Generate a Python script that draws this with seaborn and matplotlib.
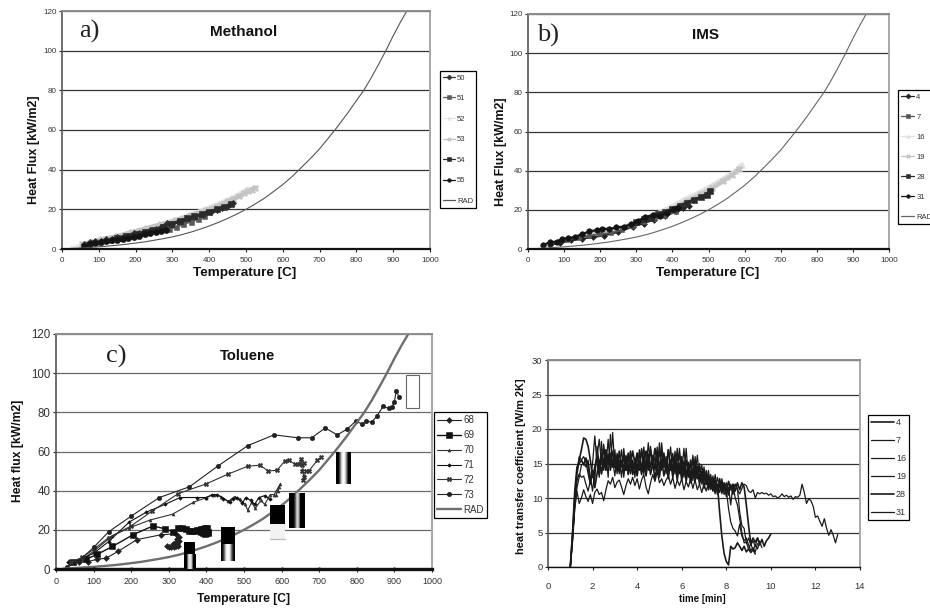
#!/usr/bin/env python
# coding: utf-8

import matplotlib
matplotlib.use("Agg")
import matplotlib.pyplot as plt
import seaborn as sns

# RAD reference curve, same for the three heat flux panels
rad_t = [20, 50, 75, 100, 125, 150, 175, 200, 225, 250, 275, 300, 325, 350, 375, 400, 425, 450, 475, 500, 525, 550,
         575, 600, 625, 650, 675, 700, 725, 750, 775, 800, 820, 840, 860, 880, 900, 920, 937]
rad_q = [0.2, 0.5, 0.8, 1.1, 1.5, 1.9, 2.4, 3.0, 3.6, 4.4, 5.2, 6.1, 7.2, 8.5, 10, 11.6, 13.4, 15.4, 17.6, 20, 22.7, 25.6,
         29, 32.5, 36.5, 41, 45.6, 50.5, 56.2, 62, 68.2, 74.8, 80, 86.2, 93, 100, 107.5, 114.5, 120]

# a) Methanol
m52_t = [25, 50, 80, 120, 160, 200, 240, 280, 320, 360, 400, 440, 480, 505]
m52_q = [0.3, 1.5, 3.0, 5.0, 7.0, 9.0, 11.0, 13.0, 15.5, 18.0, 21.0, 24.0, 27.5, 30.5]
m53_t = [55, 80, 110, 150, 190, 230, 270, 310, 350, 390, 420, 450, 465, 480, 495, 505, 515, 525]
m53_q = [2.5, 3.5, 5.0, 6.5, 8.5, 10.5, 12.5, 14.5, 17.0, 19.5, 21.5, 24.0, 25.2, 26.5, 28.0, 29.0, 30.0, 31.0]
m50_t = [60, 75, 90, 105, 120, 135, 150, 165, 180, 195, 210, 225, 240, 255, 270, 285, 300, 315, 330, 345, 360, 375, 390, 405, 420, 435, 450, 465]
m50_q = [2.4, 3.4, 4.2, 4.0, 5.0, 5.2, 6.0, 6.2, 6.8, 8.3, 8.0, 8.6, 9.8, 10.0, 11.2, 13.0, 12.6, 13.4, 14.0, 15.2, 16.0, 17.0, 18.0, 18.8, 19.6, 20.8, 21.8, 23.2]
m51_t = [70, 100, 130, 160, 190, 220, 250, 275, 290, 310, 330, 350, 370, 385]
m51_q = [2.0, 3.5, 4.6, 5.6, 6.8, 8.2, 9.4, 10.6, 10.2, 11.0, 12.6, 13.8, 15.0, 16.4]
m54_t = [150, 175, 200, 225, 250, 275, 295, 320, 340, 360, 380, 400, 420, 440, 460]
m54_q = [5.5, 6.5, 7.8, 8.6, 9.8, 11.2, 12.8, 14.0, 15.4, 16.4, 17.6, 18.8, 20.0, 21.2, 22.8]
m55_t = [60, 75, 90, 105, 120, 135, 150, 165, 180, 195, 210, 225, 240, 255, 270, 282]
m55_q = [1.6, 2.4, 2.9, 3.3, 3.8, 4.3, 4.7, 5.2, 5.7, 6.2, 6.8, 7.4, 7.9, 8.4, 8.9, 9.6]

# b) IMS
i4_t = [60, 90, 120, 150, 180, 210, 250, 290, 320, 350, 380, 410, 430, 447]
i4_q = [2.2, 3.0, 4.4, 5.2, 6.0, 6.8, 8.6, 11.4, 13.0, 15.0, 16.8, 19.2, 21.0, 21.8]
i7_t = [80, 110, 140, 170, 200, 230, 260, 290, 320, 350, 380, 410]
i7_q = [3.4, 4.6, 5.8, 6.8, 7.6, 8.2, 9.6, 12.0, 14.0, 15.4, 17.0, 18.8]
i16_t = [150, 190, 230, 270, 310, 350, 390, 430, 470, 510, 550, 575, 592]
i16_q = [6.5, 8.0, 9.5, 11.5, 14.5, 17.5, 21.0, 25.0, 28.5, 32.5, 37.0, 40.0, 43.0]
i19_t = [160, 200, 240, 280, 320, 360, 400, 440, 480, 510, 540, 565, 585]
i19_q = [7.0, 8.0, 9.6, 11.6, 14.6, 17.6, 20.6, 24.4, 28.0, 31.0, 34.6, 37.6, 40.8]
i28_t = [300, 320, 340, 360, 380, 400, 420, 440, 460, 480, 495, 505]
i28_q = [13.6, 15.2, 16.0, 17.8, 19.0, 20.4, 22.0, 23.6, 25.2, 26.4, 27.8, 29.6]
i31_t = [42, 60, 80, 95, 110, 130, 150, 170, 190, 205, 225, 245, 265, 285, 305, 325, 345, 365, 385, 405, 415]
i31_q = [2.0, 3.4, 3.8, 5.2, 5.4, 6.2, 7.6, 9.0, 9.6, 10.4, 10.2, 11.0, 11.4, 12.6, 14.4, 16.2, 17.4, 17.0, 18.6, 20.2, 21.0]

# c) Toluene
t68_t = [35, 60, 85, 110, 133, 165, 215, 280, 318, 327, 322, 328, 318, 322, 310, 318, 305, 295, 300, 315, 325]
t68_q = [3.5, 3.5, 3.8, 5.0, 5.5, 9.0, 15.0, 17.5, 18.0, 16.5, 15.5, 14.5, 14.0, 12.8, 13.0, 11.8, 11.3, 12.0, 11.0, 11.0, 12.0]
t69_t = [45, 80, 110, 150, 205, 258, 290, 312, 325, 335, 345, 355, 362, 370, 375, 380, 386, 392, 397, 402, 405, 400, 395, 390, 385, 392, 398, 405, 398]
t69_q = [3.5, 5.0, 7.5, 11.5, 17.5, 22.0, 20.5, 19.0, 20.8, 20.8, 20.5, 19.5, 19.4, 19.5, 20.0, 20.0, 20.4, 20.5, 20.8, 20.8, 19.0, 18.4, 18.0, 18.6, 19.0, 20.0, 19.2, 18.5, 20.0]
t70_t = [40, 70, 100, 150, 195, 250, 310, 365, 400, 420, 440, 458, 475, 490, 503, 510, 520, 530, 545, 555, 570, 580, 592, 597, 590, 585]
t70_q = [3.0, 5.0, 9.0, 17.0, 21.0, 25.0, 28.0, 34.0, 36.5, 38.0, 37.0, 34.5, 37.0, 35.5, 33.0, 30.0, 34.0, 31.0, 35.0, 33.0, 38.0, 38.0, 42.0, 43.5, 40.0, 38.0]
t71_t = [35, 60, 100, 140, 195, 240, 290, 330, 375, 400, 415, 428, 445, 462, 470, 482, 495, 505, 518, 528, 540, 555, 570]
t71_q = [3.5, 4.5, 8.0, 14.0, 24.0, 29.0, 33.0, 36.5, 36.5, 36.5, 38.0, 38.0, 36.0, 34.0, 36.0, 36.5, 33.5, 36.5, 35.0, 33.0, 36.5, 37.5, 35.5]
t72_t = [40, 70, 100, 140, 200, 255, 325, 400, 458, 510, 542, 565, 588, 608, 620, 635, 645, 652, 655, 660, 655, 660, 657, 665, 672, 695, 705]
t72_q = [3.5, 6.0, 10.0, 16.0, 22.0, 29.5, 38.5, 43.5, 48.5, 52.5, 53.0, 50.0, 50.5, 55.0, 55.5, 53.5, 53.5, 56.0, 53.0, 54.0, 50.0, 47.0, 45.5, 50.0, 50.0, 55.5, 57.0]
t73_t = [30, 60, 100, 140, 200, 275, 355, 430, 510, 580, 643, 680, 716, 748, 775, 797, 815, 825, 840, 853, 870, 885, 893, 900, 905, 912]
t73_q = [1.0, 4.0, 11.0, 19.0, 27.0, 36.5, 42.0, 52.5, 63.0, 68.5, 67.0, 67.0, 72.0, 68.5, 71.5, 75.5, 74.0, 75.5, 75.0, 78.0, 83.0, 82.0, 82.5, 85.5, 91.0, 88.0]
# the run of zero readings that sits on the axis
t_zero_x = [0, 100, 200, 300, 400, 500, 600, 700, 800, 900, 1000]
t_zero_y = [0, 0, 0, 0, 0, 0, 0, 0, 0, 0, 0]

# broken legend swatches left inside panel c: x0, x1, y0, y_split, y1
box_x0 = [341, 440, 570, 620, 745, 931]
box_x1 = [371, 477, 610, 660, 783, 966]
box_y0 = [0, 4.1, 15.4, 20.8, 43.4, 82]
box_split = [7.5, 12.6, 23.2, 38.2, 59.4, 82]
box_y1 = [13.7, 21.3, 32.6, 38.2, 59.4, 99.2]

# d) heat transfer coefficient, one reading every 0.1 min
time_min = [1.0, 1.1, 1.2, 1.3, 1.4, 1.5, 1.6, 1.7, 1.8, 1.9,
            2.0, 2.1, 2.2, 2.3, 2.4, 2.5, 2.6, 2.7, 2.8, 2.9,
            3.0, 3.1, 3.2, 3.3, 3.4, 3.5, 3.6, 3.7, 3.8, 3.9,
            4.0, 4.1, 4.2, 4.3, 4.4, 4.5, 4.6, 4.7, 4.8, 4.9,
            5.0, 5.1, 5.2, 5.3, 5.4, 5.5, 5.6, 5.7, 5.8, 5.9,
            6.0, 6.1, 6.2, 6.3, 6.4, 6.5, 6.6, 6.7, 6.8, 6.9,
            7.0, 7.1, 7.2, 7.3, 7.4, 7.5, 7.6, 7.7, 7.8, 7.9,
            8.0, 8.1, 8.2, 8.3, 8.4, 8.5, 8.6, 8.7, 8.8, 8.9,
            9.0, 9.1, 9.2, 9.3, 9.4, 9.5, 9.6, 9.7, 9.8, 9.9,
            10.0, 10.1, 10.2, 10.3, 10.4, 10.5, 10.6, 10.7, 10.8, 10.9,
            11.0, 11.1, 11.2, 11.3, 11.4, 11.5, 11.6, 11.7, 11.8, 11.9,
            12.0, 12.1, 12.2, 12.3, 12.4, 12.5, 12.6, 12.7, 12.8, 12.9, 13.0]
h4 = [0, 4.5, 10, 13.5, 15.5, 17, 18.7, 18.5, 17.5, 15.5, 13, 14.5, 16, 14, 16.5, 15, 17, 15, 16.5, 14.5,
      16, 14, 16.8, 14.5, 16, 14, 16.5, 14.8, 16.8, 15, 16.5, 14.5, 17, 15, 16.8, 14.5, 17, 15, 17.2, 15,
      16.8, 14.5, 16.5, 14.5, 17, 14.5, 16, 14, 16.5, 14, 16, 13.5, 15.5, 13.5, 15.5, 13, 15, 12.8, 14.5, 12.5,
      13.8, 12, 13.2, 11.5, 12.6, 11.2, 12, 8, 4.5, 2, 0.8, 0.3, 3, 2.6, 2.8, 3.5, 3, 2.4, 3, 2.2,
      2.6, 2.1, 2.5, 1.9]
h7 = [0, 4, 9, 12.5, 13.5, 13, 13.2, 12, 11, 12.5, 15, 19, 15, 13, 18.2, 14, 16.5, 13, 19.2, 14.5,
      17, 13.5, 15.5, 13, 17.2, 14, 16, 13.5, 15.5, 13, 16.5, 14, 17.2, 13.5, 15.5, 14, 17.5, 14.5, 16, 13.5,
      18, 14, 16, 13.5, 17, 14, 16.5, 13.5, 17.2, 13.5, 15.5, 13, 17.2, 13, 15, 12.5, 16, 12.8, 15, 12,
      14.5, 12, 14, 11.5, 13.2, 11, 13, 11.5, 12.4, 10.5, 11.2, 8.5, 6.5, 5.6, 5.2, 4.5, 6.2, 4.5, 3.8, 4.2,
      3.2, 2.4, 2.8, 2.2, 3.4]
h16 = [0, 3.5, 8.5, 11.5, 13, 14.8, 15, 14.5, 15.5, 13, 11, 14, 16, 18.5, 15, 17.2, 14.5, 16.4, 14, 15.5,
       13.2, 16, 13.5, 15.5, 13, 16.2, 14, 16.8, 14, 15.8, 14, 17, 14.2, 16.2, 14, 18, 14.5, 16, 14, 16.8,
       14.2, 18, 14.5, 16, 13.8, 15.6, 13.5, 16.8, 14, 17.2, 13.5, 15.4, 13, 14.8, 12.8, 15.8, 12.6, 14.4, 12.2, 13.8,
       11.5, 13.4, 11.4, 13, 11.2, 12.4, 10.5, 12, 10.6, 11.8, 10.2, 11.6, 9, 12, 10, 9, 7, 5, 3.5, 3.6,
       2.6, 3.4, 2.4, 3.2, 2.6, 3.6]
h19 = [0, 4.5, 10, 14, 16, 15.5, 16, 15.2, 13.5, 12, 14, 12.5, 17.5, 15, 13.5, 17.8, 14.8, 18.5, 14, 19.5,
       14.5, 16.5, 14, 17, 14, 16, 13.5, 16.8, 14.2, 15.2, 13.8, 16.6, 14, 17.4, 14.2, 16.4, 14.4, 16.2, 14.2, 17.4,
       14, 16.8, 14.4, 15.4, 14, 17.4, 14, 15.8, 13.6, 16.4, 13.8, 17.2, 13.4, 15.2, 13.2, 16.2, 13.2, 16.2, 12.6, 14.8,
       12.4, 14, 12, 13.4, 11.4, 13.4, 11, 11, 12.8, 11.2, 12.2, 10.4, 11.8, 10.5, 12, 11.4, 8, 6, 5.6, 3.4,
       4.2, 3.2, 3.8, 3, 4.2, 3.6, 2.8]
h28 = [0, 5, 11, 14.5, 15, 15.5, 14.8, 15.8, 14.5, 12, 14, 11.5, 13.5, 15.5, 13.5, 15.5, 14, 16.2, 15.2, 16.8,
       14.4, 15.6, 13.8, 15.2, 13.6, 15.8, 13.4, 15, 13.4, 14.8, 13.2, 15.4, 13.4, 15.2, 13.2, 15.8, 13.4, 15, 12.8, 14.8,
       13, 15.6, 13.2, 14.8, 12.8, 15.4, 13, 15, 12.6, 15, 12.6, 14.6, 12.4, 14.4, 12.2, 14.2, 12.4, 14.6, 12, 13.8,
       11.4, 13, 11.2, 12.8, 11, 12.6, 11.2, 12.8, 11, 12.2, 11, 12.4, 11.2, 12, 11, 12.2, 11.2, 12.2, 11.6, 9,
       6, 3.4, 4.2, 3.6, 4.2, 3.2, 4.0, 3.0, 3.8, 4.2, 4.8]
h31 = [0, 4, 8.5, 11, 9.2, 10, 11.2, 10.2, 9.5, 10.5, 9.2, 10.8, 11.3, 10.5, 10.8, 9.6, 11.2, 12.5, 12, 13,
       11.5, 12.3, 12.6, 11.6, 10.5, 11.8, 12.8, 12, 13, 11.8, 12.8, 11.3, 12.6, 13.4, 11.6, 10.6, 12.2, 13.4, 12.4, 13.8,
       12.2, 12.8, 11.8, 12.6, 13.2, 12, 13, 11.4, 12.6, 11.8, 12.8, 11.2, 12.4, 11.6, 12.8, 11.4, 12.6, 11.2, 12, 10.8,
       12, 11, 12.2, 11.2, 11.8, 10.6, 11.8, 10.8, 12, 11, 11.2, 10.8, 12, 11, 12, 11.2, 10.6, 11.4, 12, 11.8,
       11, 10.8, 11.2, 10, 10.8, 10.6, 10.8, 10.6, 10.7, 10.4,
       10.6, 10.2, 10.3, 10, 10.2, 10.6, 10.2, 10.4, 10.1, 10.3,
       9.8, 10.2, 10.1, 10.4, 12, 10.8, 9.2, 9.9, 9.6, 8.8,
       7.2, 7.4, 6.6, 5.9, 7.0, 5.6, 4.6, 5.4, 4.6, 3.5, 4.7]

# series labels
meth_labels = ["50", "51", "52", "53", "54", "55", "RAD"]
ims_labels = ["4", "7", "16", "19", "28", "31", "RAD"]
tol_labels = ["68", "69", "70", "71", "72", "73", "RAD"]
htc_labels = ["4", "7", "16", "19", "28", "31"]

FIG_W, FIG_H = 930, 610

sns.set_theme(style="white")
plt.rcParams["font.family"] = ["Liberation Sans", "DejaVu Sans"]


def px_axes(fig, left, top, right, bottom):
    return fig.add_axes([left / FIG_W, 1 - bottom / FIG_H, (right - left) / FIG_W, (bottom - top) / FIG_H])


def draw(ax, x, y, label=None, color="#222222", lw=0.8, marker=None, ms=3.0):
    sns.lineplot(x=x, y=y, ax=ax, sort=False, estimator=None, errorbar=None, color=color, linewidth=lw,
                 marker=marker, markersize=ms, markeredgecolor=color, markerfacecolor=color,
                 markeredgewidth=0.4, label=label, legend=False, clip_on=True)


def style_axes(ax, xmax, xstep, ymax, ystep, grid="#333333", xsize=5.8, ysize=5.8, bottom_lw=1.6, xpad=4):
    ax.set_xlim(0, xmax)
    ax.set_ylim(0, ymax)
    ax.set_xticks(range(0, xmax + 1, xstep))
    ax.set_yticks(range(0, ymax + 1, ystep))
    ax.set_axisbelow(True)
    ax.yaxis.grid(True, color=grid, linewidth=0.9)
    ax.xaxis.grid(False)
    ax.tick_params(axis="x", direction="out", length=2, width=0.8, labelsize=xsize, labelcolor="#333333",
                   bottom=True, pad=xpad, color="#222222")
    ax.tick_params(axis="y", direction="out", length=2, width=0.8, labelsize=ysize, labelcolor="#333333",
                   left=True, pad=2, color="#222222")
    ax.spines["left"].set(color="#555555", linewidth=1.2)
    ax.spines["top"].set(color="#8c8c8c", linewidth=1.4)
    ax.spines["right"].set(color="#a8a8a8", linewidth=1.4)
    ax.spines["bottom"].set(color="#111111", linewidth=bottom_lw)


def label_at(fig, text, x_px, y_px, size, rotation=0):
    # axis titles sit off-centre in the source, so they go by figure position
    fig.text(x_px / FIG_W, 1 - y_px / FIG_H, text, fontsize=size, fontweight="bold", color="#111111",
             rotation=rotation, ha="center", va="center")


def put_legend(fig, ax, labels, left, bottom_px, size, spacing, hlen, pad=0.4, htext=0.25, order=None, thin=False):
    handles, _ = ax.get_legend_handles_labels()
    if order is not None:
        handles = [handles[order.index(i)] for i in range(len(order))]
    leg = ax.legend(handles, labels, loc="lower left", bbox_to_anchor=(left / FIG_W, 1 - bottom_px / FIG_H),
                    bbox_transform=fig.transFigure, borderaxespad=0, frameon=True, fancybox=False, framealpha=1,
                    edgecolor="black", fontsize=size, labelspacing=spacing, handlelength=hlen, handletextpad=htext,
                    borderpad=pad, labelcolor="#333333")
    leg.get_frame().set_linewidth(0.9)
    if thin:
        for line in leg.get_lines():
            line.set_linewidth(0.9)
            line.set_markersize(2.6)
    return leg


fig = plt.figure(figsize=(FIG_W / 100, FIG_H / 100), dpi=100)
draw_order = [2, 3, 0, 1, 4, 5, 6]

# ---- a) Methanol
ax_a = px_axes(fig, 62, 11, 430, 249)
draw(ax_a, m52_t, m52_q, meth_labels[2], "#e6e6e6", 3.0, "^", 4.5)
draw(ax_a, m53_t, m53_q, meth_labels[3], "#c4c4c4", 3.2, "X", 5.0)
draw(ax_a, m50_t, m50_q, meth_labels[0], "#333333", 1.5, "D", 3.2)
draw(ax_a, m51_t, m51_q, meth_labels[1], "#5a5a5a", 1.5, "s", 3.6)
draw(ax_a, m54_t, m54_q, meth_labels[4], "#2a2a2a", 2.0, "s", 4.2)
draw(ax_a, m55_t, m55_q, meth_labels[5], "#141414", 2.0, "o", 4.4)
draw(ax_a, rad_t, rad_q, meth_labels[6], "#555555", 0.8)
style_axes(ax_a, 1000, 100, 120, 20)
ax_a.set_xlabel("")
ax_a.set_ylabel("")
label_at(fig, "Temperature [C]", 245, 273, 9.7)
label_at(fig, "Heat Flux [kW/m2]", 34, 150, 9, rotation=90)
ax_a.text(0.493, 0.912, "Methanol", transform=ax_a.transAxes, fontsize=11, fontweight="bold", ha="center",
          va="center", color="#111111")
ax_a.text(0.046, 0.912, "a)", transform=ax_a.transAxes, fontsize=19, family="Liberation Serif", va="center",
          color="#222222")
put_legend(fig, ax_a, meth_labels, 440, 208, 5.5, 1.73, 1.6, order=draw_order, thin=True)

# ---- b) IMS
ax_b = px_axes(fig, 528, 14, 889, 249)
draw(ax_b, i16_t, i16_q, ims_labels[2], "#e0e0e0", 3.0, "^", 4.8)
draw(ax_b, i19_t, i19_q, ims_labels[3], "#c4c4c4", 3.0, "X", 4.6)
draw(ax_b, i4_t, i4_q, ims_labels[0], "#222222", 1.2, "D", 3.0)
draw(ax_b, i7_t, i7_q, ims_labels[1], "#555555", 1.2, "s", 3.0)
draw(ax_b, i28_t, i28_q, ims_labels[4], "#2a2a2a", 2.2, "s", 4.8)
draw(ax_b, i31_t, i31_q, ims_labels[5], "#141414", 1.6, "o", 4.0)
draw(ax_b, rad_t, rad_q, ims_labels[6], "#666666", 0.8)
style_axes(ax_b, 1000, 100, 120, 20)
ax_b.set_xlabel("")
ax_b.set_ylabel("")
label_at(fig, "Temperature [C]", 708, 273, 9.7)
label_at(fig, "Heat Flux [kW/m2]", 501, 152, 9, rotation=90)
ax_b.text(0.493, 0.91, "IMS", transform=ax_b.transAxes, fontsize=11, fontweight="bold", ha="center", va="center",
          color="#111111")
ax_b.text(0.025, 0.91, "b)", transform=ax_b.transAxes, fontsize=19, family="Liberation Serif", va="center",
          color="#222222")
put_legend(fig, ax_b, ims_labels, 898, 224, 5.5, 1.66, 1.75, order=draw_order, thin=True)

# ---- c) Toluene
ax_c = px_axes(fig, 56, 334, 432, 569)
stripes = {0: [0, 0, 0.75, 0.95, 0.75, 0, 0], 1: [0, 0.3, 0.9, 1, 0.9, 0.3, 0],
           3: [0, 0, 0, 0.3, 0.85, 0.7, 0, 0, 0], 4: [0, 0, 0.4, 0.9, 1, 0.9, 0.4, 0, 0]}
for i in range(6):
    # top part of the swatch is solid, the part below is a striped gradient
    if box_split[i] < box_y1[i] and i in (0, 1, 2):
        ax_c.bar(box_x0[i], box_y1[i] - box_split[i], width=box_x1[i] - box_x0[i], bottom=box_split[i], align="edge",
                 color="black", linewidth=0, zorder=3)
    if i in stripes:
        ax_c.imshow([stripes[i]], cmap="gray", vmin=0, vmax=1, aspect="auto", interpolation="bilinear", zorder=3,
                    extent=(box_x0[i], box_x1[i], box_y0[i], box_split[i]))
ax_c.bar(box_x0[2], box_split[2] - box_y0[2], width=box_x1[2] - box_x0[2], bottom=box_y0[2], align="edge",
         color="#f2f2f2", edgecolor="#f2f2f2", linewidth=0, zorder=3)
ax_c.plot([box_x0[2], box_x1[2]], [box_y0[2], box_y0[2]], color="#bbbbbb", lw=0.9, zorder=3)
ax_c.bar(box_x0[5], box_y1[5] - box_y0[5], width=box_x1[5] - box_x0[5], bottom=box_y0[5], align="edge",
         color="white", edgecolor="#666666", linewidth=0.8, zorder=3)
draw(ax_c, t68_t, t68_q, tol_labels[0], "#222222", 0.8, "D", 3.0)
draw(ax_c, t69_t, t69_q, tol_labels[1], "#111111", 1.0, "s", 4.0)
draw(ax_c, t70_t, t70_q, tol_labels[2], "#333333", 0.8, "^", 2.2)
draw(ax_c, t71_t, t71_q, tol_labels[3], "#111111", 0.8, "D", 1.8)
draw(ax_c, t72_t, t72_q, tol_labels[4], "#333333", 0.8, "X", 3.2)
draw(ax_c, t73_t, t73_q, tol_labels[5], "#222222", 0.8, "o", 3.2)
draw(ax_c, rad_t, rad_q, tol_labels[6], "#6e6e6e", 1.7)
draw(ax_c, t_zero_x, t_zero_y, None, "#000000", 2.2, "o", 2.4)
style_axes(ax_c, 1000, 100, 120, 20, grid="#6a6a6a", xsize=6.5, ysize=8.3, bottom_lw=2.4, xpad=4)
ax_c.set_xlim(0, 1000)
ax_c.set_ylim(0, 120)
ax_c.set_xlabel("")
ax_c.set_ylabel("")
label_at(fig, "Temperature [C]", 243, 599, 8.7)
label_at(fig, "Heat flux [kW/m2]", 18, 451, 8.7, rotation=90)
ax_c.text(0.508, 0.906, "Toluene", transform=ax_c.transAxes, fontsize=10.6, fontweight="bold", ha="center",
          va="center", color="#111111")
ax_c.text(0.133, 0.906, "c)", transform=ax_c.transAxes, fontsize=19, family="Liberation Serif", va="center",
          color="#222222")
put_legend(fig, ax_c, tol_labels, 434, 518, 7, 0.5, 2.4, pad=0.35)

# ---- d) heat transfer coefficient
ax_d = px_axes(fig, 548, 360, 860, 567)
widths = [1.2, 0.9, 0.9, 0.9, 1.2, 0.9]
for label, vals, lw in zip(htc_labels, [h4, h7, h16, h19, h28, h31], widths):
    draw(ax_d, time_min[:len(vals)], vals, label, "#1a1a1a", lw)
style_axes(ax_d, 14, 2, 30, 5, grid="#333333", xsize=6.8, ysize=6.8, bottom_lw=1.0, xpad=9)
ax_d.set_xlabel("")
ax_d.set_ylabel("")
label_at(fig, "time [min]", 702, 599, 7)
label_at(fig, "heat transfer coefficient [W/m 2K]", 521, 466, 7.9, rotation=90)
put_legend(fig, ax_d, htc_labels, 868, 520, 6.5, 1.0, 2.5, pad=0.35)

fig.savefig("out.png", dpi=100)
